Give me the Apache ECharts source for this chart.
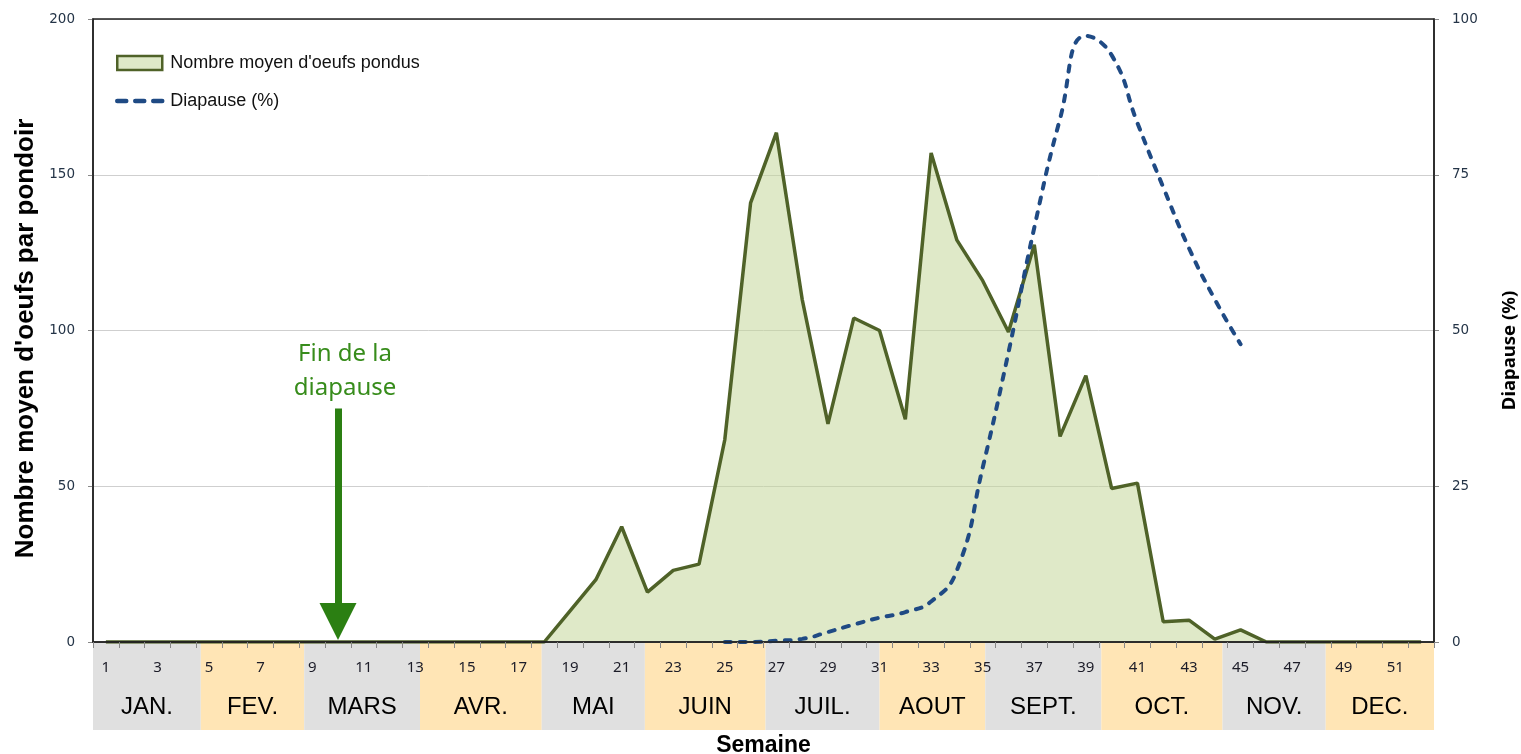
<!DOCTYPE html>
<html>
<head>
<meta charset="utf-8">
<script src="https://cdn.jsdelivr.net/npm/echarts@6/dist/echarts.min.js"></script>
<style>
html,body{margin:0;padding:0;background:#fff;overflow:hidden;}
#chart{width:1521px;height:754px;}
</style>
</head>
<body>
<div id="chart"></div>
<script>
// ---- data ----
const weeks = Array.from({length: 52}, (_, i) => String(i + 1));
const eggs = [0,0,0,0,0,0,0,0,0,0,0,0,0,0,0,0,0,0,
  10,20,37,16,23,25,65,141,163.5,110,70,104,100,71.5,157,129,116,99.5,127.5,66,85.5,
  49.3,51,6.5,7,0.9,3.9,0,0,0,0,0,0,0];
const diapause = [null,null,null,null,null,null,null,null,null,null,null,null,null,null,null,null,null,null,null,null,null,null,null,null,
  0,0,0.2,0.5,1.6,2.8,3.9,4.8,6.5,11.5,28,46.5,66.5,84,97.3,94.2,83.3,73,63.2,55,47.8,
  null,null,null,null,null,null,null];
const months = ['JAN.','FEV.','MARS','AVR.','MAI','JUIN','JUIL.','AOUT','SEPT.','OCT.','NOV.','DEC.'];
const monthBounds = [0, 4.18, 8.19, 12.68, 17.4, 21.4, 26.08, 30.5, 34.6, 39.1, 43.8, 47.8, 52];
const eggTicks = [0, 50, 100, 150, 200];
const diapTicks = [0, 25, 50, 75, 100];
const arrowWeek = '10';
const arrowFrom = 75;
const arrowTo = 6.6;
const arrowText = 'Fin de la\ndiapause';
const seriesNames = ["Nombre moyen d'oeufs pondus", 'Diapause (%)'];

const bandData = months.map((m, i) => [monthBounds[i], monthBounds[i + 1], m]);

const chart = echarts.init(document.getElementById('chart'), null, {width: 1521, height: 754});
const option = {
  animation: false,
  backgroundColor: '#fff',
  grid: [
    {left: 93, width: 1341, top: 19, height: 623, show: true, borderColor: '#222', borderWidth: 1.5, z: 3,
     containLabel: false, outerBoundsMode: 'none'},
    {left: 93, width: 1341, top: 643, height: 87, containLabel: false, outerBoundsMode: 'none'}
  ],
  legend: {
    orient: 'vertical', left: 110, top: 49, itemWidth: 45, itemHeight: 14, itemGap: 20,
    textStyle: {fontFamily: 'Liberation Sans', fontSize: 18, color: '#111', padding: [0, 0, 0, 3]},
    selectedMode: false,
    data: [
      {name: seriesNames[0], icon: 'rect', itemStyle: {color: '#dee9c8', borderColor: '#4f6228', borderWidth: 2.5}},
      {name: seriesNames[1], itemStyle: {opacity: 0},
       lineStyle: {color: '#1f4a84', width: 4.5, type: [9, 9], cap: 'round'}}
    ]
  },
  xAxis: [
    {
      type: 'category', gridIndex: 0, data: weeks, boundaryGap: true, z: 10,
      name: 'Semaine', nameLocation: 'middle', nameGap: 92,
      nameTextStyle: {fontFamily: 'Liberation Sans', fontWeight: 'bold', fontSize: 23, color: '#000'},
      axisLine: {lineStyle: {color: '#222', width: 1.5}},
      axisTick: {show: true, interval: 0, length: 6, lineStyle: {color: '#888'}},
      axisLabel: {interval: 1, margin: 18, fontFamily: 'Noto Sans', fontSize: 15, color: '#1c1c28'},
      splitLine: {show: false}
    },
    {type: 'value', gridIndex: 1, min: 0, max: 52, show: false}
  ],
  yAxis: [
    {
      type: 'value', gridIndex: 0, min: eggTicks[0], max: eggTicks[eggTicks.length - 1], interval: 50,
      name: "Nombre moyen d'oeufs par pondoir", nameLocation: 'middle', nameGap: 54,
      nameTextStyle: {fontFamily: 'Liberation Sans', fontWeight: 'bold', fontSize: 26, color: '#000', padding: [0, 16, 0, 0]},
      axisLine: {show: true, lineStyle: {color: '#222', width: 1.5}},
      axisTick: {show: true, length: 5, lineStyle: {color: '#888'}},
      axisLabel: {margin: 18, fontFamily: 'DejaVu Sans', fontSize: 13.5, color: '#243447'},
      splitLine: {show: true, lineStyle: {color: '#cfcfcf', width: 1}}
    },
    {
      type: 'value', gridIndex: 0, position: 'right', min: diapTicks[0], max: diapTicks[diapTicks.length - 1], interval: 25,
      name: 'Diapause (%)', nameLocation: 'middle', nameGap: 66, nameRotate: 90,
      nameTextStyle: {fontFamily: 'Noto Sans', fontWeight: 'bold', fontSize: 18.5, color: '#000', padding: [0, 40, 0, 0]},
      axisLine: {show: true, lineStyle: {color: '#222', width: 1.5}},
      axisTick: {show: true, length: 5, lineStyle: {color: '#888'}},
      axisLabel: {margin: 18, fontFamily: 'DejaVu Sans', fontSize: 13.5, color: '#243447'},
      splitLine: {show: false}
    },
    {type: 'value', gridIndex: 1, min: 0, max: 1, show: false}
  ],
  series: [
    {
      type: 'custom', xAxisIndex: 1, yAxisIndex: 2, z: 1, silent: true,
      encode: {x: [0, 1]},
      data: bandData,
      renderItem: function (params, api) {
        const i = params.dataIndex;
        const p0 = api.coord([api.value(0), 1]);
        const p1 = api.coord([api.value(1), 0]);
        const ly = api.coord([0, 0.264])[1];
        return {
          type: 'group',
          children: [
            {type: 'rect', shape: {x: p0[0], y: p0[1], width: p1[0] - p0[0], height: p1[1] - p0[1]},
             style: {fill: i % 2 === 0 ? '#e0e0e0' : '#ffe5b5'}},
            {type: 'text', x: (p0[0] + p1[0]) / 2, y: ly,
             style: {text: months[i], fill: '#000', font: '24px "Liberation Sans"', align: 'center', verticalAlign: 'middle'}}
          ]
        };
      }
    },
    {
      name: seriesNames[0], type: 'line', xAxisIndex: 0, yAxisIndex: 0, data: eggs,
      symbol: 'none', smooth: false, z: 2,
      lineStyle: {color: '#4f6228', width: 3.5},
      itemStyle: {color: '#4f6228'},
      areaStyle: {color: 'rgba(196,215,155,0.55)', opacity: 1},
      emphasis: {disabled: true},
      markLine: {
        silent: true, animation: false,
        symbol: ['none', 'triangle'], symbolSize: [37, 37],
        lineStyle: {color: '#2b7f12', width: 7, type: 'solid'},
        label: {show: true, position: 'start', formatter: arrowText, offset: [7, 0], distance: 3,
                color: '#378c1b', fontFamily: 'Noto Sans', fontSize: 24, lineHeight: 34, align: 'center'},
        data: [[{coord: [arrowWeek, arrowFrom]}, {coord: [arrowWeek, arrowTo]}]]
      }
    },
    {
      name: seriesNames[1], type: 'line', xAxisIndex: 0, yAxisIndex: 1, data: diapause,
      symbol: 'none', smooth: 0.5, z: 4, connectNulls: false,
      lineStyle: {color: '#1f4a84', width: 4, type: [6, 9], cap: 'round'},
      itemStyle: {color: '#1f4a84'},
      emphasis: {disabled: true}
    }
  ]
};
chart.setOption(option);
</script>
</body>
</html>
